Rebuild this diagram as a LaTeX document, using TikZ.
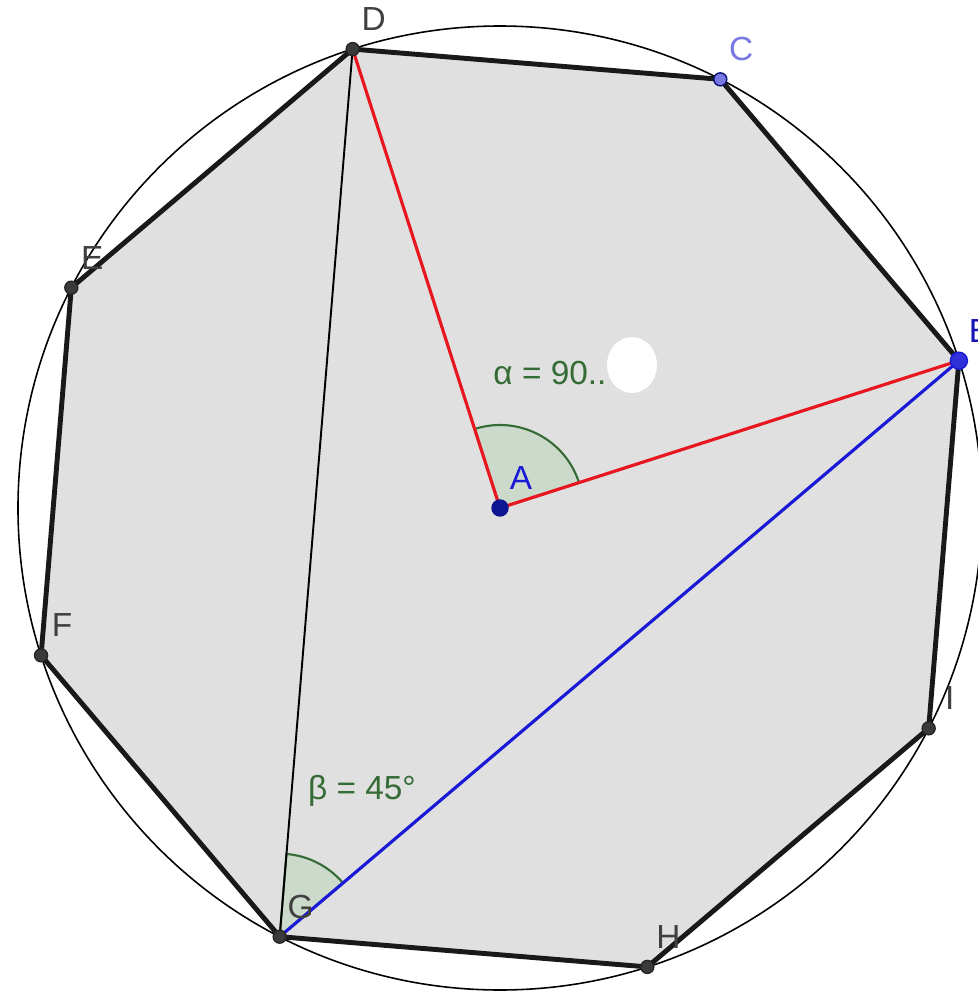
\documentclass[tikz,border=0pt]{standalone}
\usepackage{fontspec}
\setmainfont{Liberation Sans}
\usetikzlibrary{positioning,calc}
\definecolor{ggfill}{HTML}{E0E0E0}
\definecolor{ggred}{HTML}{E8161E}
\definecolor{ggblue}{HTML}{1A1AD6}
\definecolor{gggreen}{HTML}{356B35}
\definecolor{ggangle}{HTML}{CCDACC}
\definecolor{gglbl}{HTML}{404040}
\definecolor{ggdot}{HTML}{3A3A3A}
\definecolor{ggnavy}{HTML}{0C1690}
\definecolor{ggpale}{HTML}{7878E2}
\tikzset{
  vtx/.style  ={circle, fill=ggdot, draw=black!85, line width=0.4pt,
                inner sep=0pt, minimum size=1.3mm},
  vtxc/.style ={vtx, fill=ggpale, draw=ggnavy!80!black},
  vtxb/.style ={vtx, fill=ggblue!90, draw=ggblue, minimum size=1.7mm},
  vtxa/.style ={vtx, fill=ggnavy, draw=ggnavy, minimum size=1.6mm},
  lbl/.style  ={font=\fontsize{9.5}{11}\selectfont, text=gglbl, inner sep=0pt,
                xshift=2.1mm, yshift=3mm},
  side/.style ={draw=black!90, line width=1.4pt, line join=round},
  rad/.style  ={draw=ggred, line width=0.9pt},
  chord/.style={draw=ggblue, line width=0.9pt},
  arcm/.style ={fill=ggangle, draw=gggreen, line width=0.6pt},
  val/.style  ={font=\fontsize{9.5}{11}\selectfont, text=gggreen, inner sep=0pt}
}
\begin{document}
\begin{tikzpicture}
  \useasboundingbox (-5.00,-4.84) rectangle (4.78,5.08);
  \coordinate (A) at (0,0);
  \foreach \n [count=\k from 0] in {D,C,B,I,H,G,F,E}
    \coordinate (\n) at ({107.8-45*\k}:4.82);
  % octagon and circle
  \fill[ggfill] (D) -- (C) -- (B) -- (I) -- (H) -- (G) -- (F) -- (E) -- cycle;
  \draw[line width=0.45pt] (A) circle[radius=4.82];
  % angle marks
  \draw[arcm] (A) -- ($(A)+(17.8:0.83)$) arc[start angle=17.8, end angle=107.8, radius=0.83] -- cycle;
  \draw[arcm] (G) -- ($(G)+(40.3:0.83)$) arc[start angle=40.3, end angle=85.3, radius=0.83] -- cycle;
  % segments
  \draw[line width=0.55pt] (D) -- (G);
  \draw[chord] (G) -- (B);
  \draw[rad] (D) -- (A) -- (B);
  \draw[side] (D) -- (C) -- (B) -- (I) -- (H) -- (G) -- (F) -- (E) -- cycle;
  % erased blob
  \fill[white] (1.32,1.43) ellipse[x radius=0.25, y radius=0.28];
  % points
  \foreach \n in {D,I,H,G,F,E} \node[vtx] (p\n) at (\n) {};
  \node[vtxc] (pC) at (C) {};
  \node[vtxb] (pB) at (B) {};
  \node[vtxa] (pA) at (A) {};
  % labels
  \foreach \n in {D,E,F,G,H,I} \node[lbl] (l\n) at (\n) {\n};
  \node[lbl, text=ggpale] (lC) at (C) {C};
  \node[lbl, text=ggblue!85!black] (lB) at (B) {B};
  \node[lbl, text=ggblue] (lA) at (A) {A};
  \node[val] (alpha) at (0.50,1.35) {α = 90..};
  \node[val] (beta) at (-1.38,-2.83) {β = 45°};
\end{tikzpicture}
\end{document}
